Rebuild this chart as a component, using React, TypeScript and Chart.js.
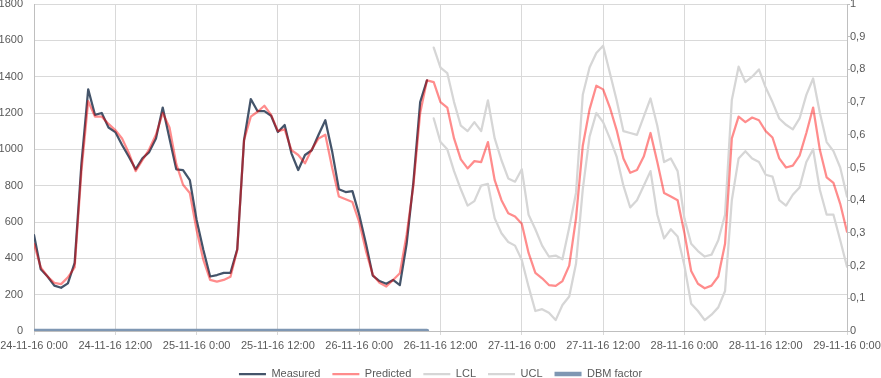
import React, { useEffect, useRef } from 'react';
import { Chart, registerables } from 'chart.js';

Chart.register(...registerables);

// x axis: hours since 24-11-16 0:00, one value per hour
const xTickLabels = [
  '24-11-16 0:00', '24-11-16 12:00', '25-11-16 0:00', '25-11-16 12:00',
  '26-11-16 0:00', '26-11-16 12:00', '27-11-16 0:00', '27-11-16 12:00',
  '28-11-16 0:00', '28-11-16 12:00', '29-11-16 0:00',
];
const leftTickLabels = ['0', '200', '400', '600', '800', '1000', '1200', '1400', '1600', '1800'];
const rightTickLabels = ['0', '0,1', '0,2', '0,3', '0,4', '0,5', '0,6', '0,7', '0,8', '0,9', '1'];

const measured = [
  528, 340, 300, 250, 238, 262, 375, 920, 1330, 1190,
  1200, 1120, 1095, 1024, 960, 890, 950, 985, 1060, 1230,
  1060, 890, 886, 831, 611, 446, 300, 308, 320, 320,
  450, 1050, 1277, 1210, 1210, 1185, 1095, 1134, 978, 886,
  969, 995, 1080, 1160, 990, 780, 765, 770, 640, 480,
  305, 275, 260, 281, 253, 480, 820, 1260, 1380,
];

const predicted = [
  480, 350, 300, 265, 258, 295, 350, 880, 1265, 1180,
  1180, 1140, 1106, 1060, 980, 880, 940, 1000, 1080, 1200,
  1120, 920, 805, 760, 556, 391, 281, 272, 281, 299,
  446, 1050, 1180, 1207, 1240, 1190, 1100, 1110, 996, 969,
  923, 1000, 1060, 1080, 900, 740, 725, 710, 600, 440,
  310, 265, 245, 281, 318, 530, 800, 1200, 1380, 1370,
  1260, 1230, 1060, 945, 895, 935, 930, 1040, 830, 720,
  648, 630, 590, 430, 320, 290, 253, 248, 275, 360,
  620, 1020, 1220, 1350, 1330, 1230, 1106, 950, 871, 886,
  960, 1090, 930, 760, 740, 720, 540, 330, 260, 235,
  250, 300, 480, 1060, 1180, 1150, 1175, 1160, 1100, 1065,
  950, 900, 910, 965, 1090, 1230, 996, 845, 815, 700,
  547,
];

// control limits start at hour 59
const controlStartHour = 59;
const lcl = [
  1170, 1040, 1000, 880, 780, 690, 715, 800, 810, 620,
  538, 490, 470, 391, 244, 110, 120, 100, 60, 143,
  190, 370, 780, 1070, 1200, 1150, 1060, 960, 800, 680,
  720, 800, 880, 640, 510, 560, 520, 360, 150, 110,
  60, 90, 130, 220, 720, 950, 990, 950, 930, 860,
  850, 720, 690, 750, 790, 930, 1000, 776, 640, 640,
  500, 354,
];
const ucl = [
  1560, 1450, 1420, 1260, 1130, 1100, 1150, 1100, 1270, 1060,
  940, 840, 822, 890, 640, 560, 470, 410, 415, 395,
  570, 760, 1300, 1450, 1530, 1570, 1420, 1270, 1100, 1090,
  1080, 1180, 1280, 1130, 930, 950, 880, 620, 480, 440,
  410, 420, 500, 640, 1272, 1455, 1370, 1400, 1440, 1340,
  1260, 1170, 1135, 1110, 1170, 1300, 1390, 1200, 1040, 990,
  900, 740,
];

const dbmFactor = [
  0, 0, 0, 0, 0, 0, 0, 0, 0, 0,
  0, 0, 0, 0, 0, 0, 0, 0, 0, 0,
  0, 0, 0, 0, 0, 0, 0, 0, 0, 0,
  0, 0, 0, 0, 0, 0, 0, 0, 0, 0,
  0, 0, 0, 0, 0, 0, 0, 0, 0, 0,
  0, 0, 0, 0, 0, 0, 0, 0, 0,
];

const toPoints = (vals: number[], start: number) => vals.map((v, i) => ({ x: start + i, y: v }));

export default function App() {
  const ref = useRef<HTMLCanvasElement>(null);

  useEffect(() => {
    if (!ref.current) return;
    Chart.defaults.font.family = '"Liberation Sans", Arial, sans-serif';
    Chart.defaults.font.size = 11;
    Chart.defaults.color = '#595959';

    const chart = new Chart(ref.current, {
      type: 'line',
      data: {
        datasets: [
          { label: 'Measured', data: toPoints(measured, 0), borderColor: '#44546a', backgroundColor: '#44546a', borderWidth: 2.25, order: 2, yAxisID: 'y' },
          { label: 'Predicted', data: toPoints(predicted, 0), borderColor: 'rgba(255,0,0,0.45)', backgroundColor: 'rgba(255,0,0,0.45)', borderWidth: 2.25, order: 1, yAxisID: 'y' },
          { label: 'LCL', data: toPoints(lcl, controlStartHour), borderColor: '#d6d6d6', backgroundColor: '#d6d6d6', borderWidth: 2.25, order: 3, yAxisID: 'y' },
          { label: 'UCL', data: toPoints(ucl, controlStartHour), borderColor: '#d6d6d6', backgroundColor: '#d6d6d6', borderWidth: 2.25, order: 3, yAxisID: 'y' },
          { label: 'DBM factor', data: toPoints(dbmFactor, 0), borderColor: '#7f97b3', backgroundColor: '#7f97b3', borderWidth: 4.5, order: 0, yAxisID: 'y1' },
        ],
      },
      options: {
        animation: false,
        responsive: false,
        maintainAspectRatio: false,
        elements: {
          point: { radius: 0, hoverRadius: 0 },
          line: { tension: 0, borderJoinStyle: 'round', borderCapStyle: 'round', fill: false },
        },
        layout: { padding: { top: 4, left: 0, right: 0, bottom: -11.5 } },
        scales: {
          x: {
            type: 'linear',
            min: 0,
            max: 120,
            ticks: {
              stepSize: 12,
              autoSkip: false,
              maxRotation: 0,
              padding: 4,
              color: '#595959',
              callback: (_v: any, i: number) => xTickLabels[i] ?? '',
            },
            grid: { color: '#d9d9d9', tickLength: 4, drawTicks: true },
            border: { color: '#bfbfbf' },
            afterFit: (s: any) => { s.height = 25.5; s.paddingLeft = 0; s.paddingRight = 0; },
          },
          y: {
            position: 'left',
            min: 0,
            max: 1800,
            ticks: { stepSize: 200, padding: 11, color: '#595959', callback: (_v: any, i: number) => leftTickLabels[i] ?? '' },
            grid: { color: '#d9d9d9', drawTicks: false },
            border: { color: '#bfbfbf' },
            afterFit: (s: any) => { s.width = 34; s.paddingTop = 0; s.paddingBottom = 0; },
          },
          y1: {
            position: 'right',
            min: 0,
            max: 1,
            ticks: { stepSize: 0.1, padding: 0, color: '#595959', callback: (_v: any, i: number) => rightTickLabels[i] ?? '' },
            grid: { drawOnChartArea: false, tickLength: 3, color: '#bfbfbf' },
            border: { color: '#bfbfbf' },
            afterFit: (s: any) => { s.width = 34; s.paddingTop = 0; s.paddingBottom = 0; },
          },
        },
        plugins: {
          legend: {
            position: 'bottom',
            labels: {
              usePointStyle: true,
              pointStyle: 'line',
              pointStyleWidth: 27,
              padding: 12,
              color: '#595959',
              font: { size: 11 },
              sort: (a: any, b: any) => a.datasetIndex - b.datasetIndex,
            },
          },
          tooltip: { enabled: false },
        },
      },
    });
    return () => chart.destroy();
  }, []);

  return (
    <div style={{ position: 'fixed', left: 0, top: 0, width: 881, height: 378, background: '#ffffff' }}>
      <canvas ref={ref} width={881} height={378} style={{ display: 'block', width: 881, height: 378 }} />
    </div>
  );
}
